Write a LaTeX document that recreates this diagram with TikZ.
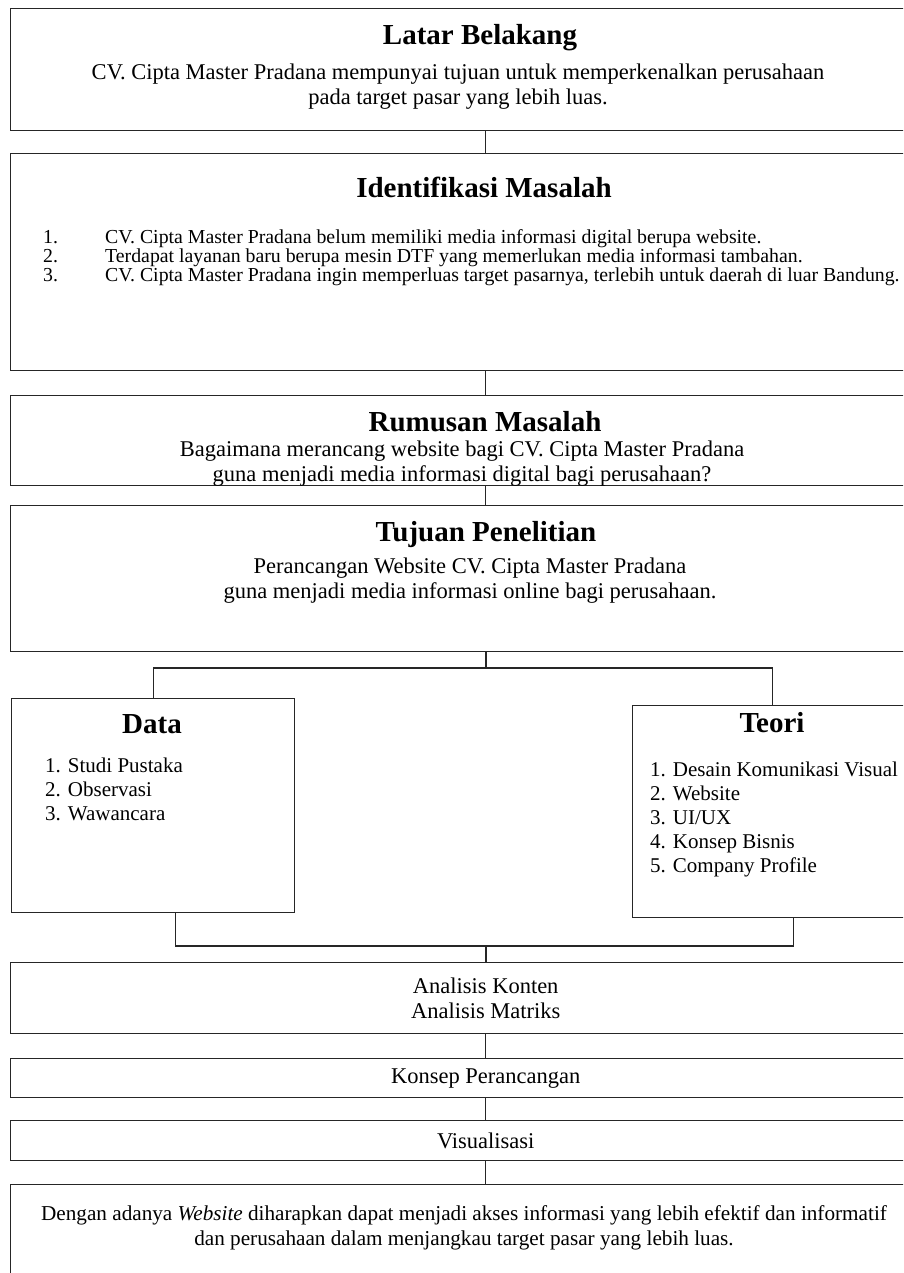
\documentclass[tikz,border=0pt]{standalone}
\usepackage{fontspec}
\setmainfont{Liberation Serif}
\usetikzlibrary{positioning}
\tikzstyle{box} = [draw=black!85, line width=1.4pt, rectangle, inner sep=0pt, anchor=north west]
\tikzstyle{head} = [font=\fontsize{29}{32}\selectfont\bfseries, inner sep=0pt]
\tikzstyle{body} = [font=\fontsize{22.5}{25}\selectfont, align=center, inner sep=0pt]
\tikzstyle{items} = [font=\fontsize{21}{24}\selectfont, align=left, anchor=west, inner sep=0pt]
\tikzstyle{link} = [draw=black!85, line width=1.4pt]

\begin{document}
\begin{tikzpicture}[x=1pt,y=-1pt]
	\clip (0,0) rectangle (903,1273);

	\node(latar) at (10,8) [box, minimum width=950pt, minimum height=122pt] {};
	\node(latarhead) at (480,38) [head] {Latar Belakang};
	\node(latarbody) at (458,86.5) [body] {CV. Cipta Master Pradana mempunyai tujuan untuk memperkenalkan perusahaan\\pada target pasar yang lebih luas.};

	\node(ident) at (10,153) [box, minimum width=950pt, minimum height=217pt] {};
	\node(identhead) at (484,187) [head] {Identifikasi Masalah};
	\node(identbody) at (43,258) [items, font=\fontsize{19.8}{18}\selectfont] {%
		\begin{tabular}{@{}p{62pt}@{}l@{}}
		1. & CV. Cipta Master Pradana belum memiliki media informasi digital berupa website.\\
		2. & Terdapat layanan baru berupa mesin DTF yang memerlukan media informasi tambahan.\\
		3. & CV. Cipta Master Pradana ingin memperluas target pasarnya, terlebih untuk daerah di luar Bandung.
		\end{tabular}};

	\node(rumusan) at (10,395) [box, minimum width=950pt, minimum height=90pt] {};
	\node(rumusanhead) at (485,422) [head] {Rumusan Masalah};
	\node(rumusanbody) at (462,464) [body] {Bagaimana merancang website bagi CV. Cipta Master Pradana\\guna menjadi media informasi digital bagi perusahaan?};

	\node(tujuan) at (10,505) [box, minimum width=950pt, minimum height=146pt] {};
	\node(tujuanhead) at (486,535) [head] {Tujuan Penelitian};
	\node(tujuanbody) at (470,580.5) [body] {Perancangan Website CV. Cipta Master Pradana\\guna menjadi media informasi online bagi perusahaan.};

	\node(data) at (11,698) [box, minimum width=283pt, minimum height=214pt] {};
	\node(datahead) at (152,724) [head] {Data};
	\node(databody) at (45,789) [items] {1. Studi Pustaka\\2. Observasi\\3. Wawancara};

	\node(teori) at (632,705) [box, minimum width=280pt, minimum height=212pt] {};
	\node(teorihead) at (772,723) [head] {Teori};
	\node(teoribody) at (650,819) [items] {1. Desain Komunikasi Visual\\2. Website\\3. UI/UX\\4. Konsep Bisnis\\5. Company Profile};

	\node(analisis) at (10,962) [box, minimum width=950pt, minimum height=71pt, body] {Analisis Konten\\Analisis Matriks};
	\node(konsep) at (10,1058) [box, minimum width=950pt, minimum height=39pt, body] {Konsep Perancangan};
	\node(visual) at (10,1120) [box, minimum width=950pt, minimum height=40pt, body] {Visualisasi};
	\node(hasil) at (10,1184) [box, minimum width=950pt, minimum height=110pt] {};
	\node(hasilbody) at (464,1227.5) [body, font=\fontsize{21.2}{25}\selectfont] {Dengan adanya \textit{Website} diharapkan dapat menjadi akses informasi yang lebih efektif dan informatif\\dan perusahaan dalam menjangkau target pasar yang lebih luas.};

	\coordinate(split) at (486,668);
	\coordinate(merge) at (486,946);

	\draw[link] (latar) -- (ident);
	\draw[link] (ident) -- (rumusan);
	\draw[link] (rumusan) -- (tujuan);
	\draw[link] (tujuan.south -| split) -- (split);
	\draw[link] (data.north) |- (split) -| (teori.north);
	\draw[link] ([xshift=22pt]data.south) |- (merge) -| ([xshift=21pt]teori.south);
	\draw[link] (merge) -- (analisis.north -| merge);
	\draw[link] (analisis) -- (konsep);
	\draw[link] (konsep) -- (visual);
	\draw[link] (visual) -- (hasil.north -| visual);
\end{tikzpicture}
\end{document}
